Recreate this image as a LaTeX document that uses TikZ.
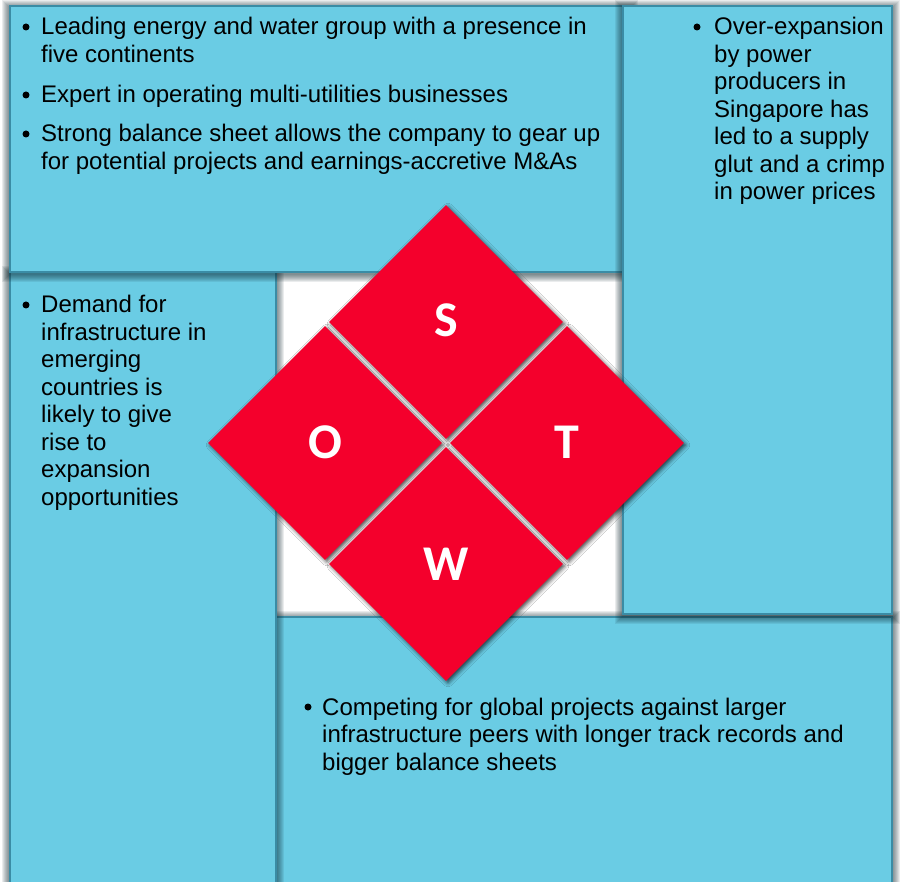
\documentclass[tikz,border=0pt]{standalone}
\usepackage{fontspec}
\setmainfont{Liberation Sans}
\newfontfamily\letterfont{Carlito}
\usetikzlibrary{shapes.geometric,shadows.blur,fit}

\definecolor{boxblue}{RGB}{106,204,228}
\definecolor{boxedge}{RGB}{58,140,165}
\definecolor{swotred}{RGB}{244,0,44}
\definecolor{shadowc}{RGB}{15,40,50}

% soft shadow around a rectangle given by two corner coordinates
\newcommand\softshade[2]{%
  \foreach \k in {1,...,8}{%
    \draw[shadowc, opacity=0.085, line width=\k*2pt]
      ([yshift=-2pt]#1) rectangle ([yshift=-2pt]#2);}}

\tikzset{
  panel/.style={draw=boxedge, line width=1.2pt, fill=boxblue, inner sep=0pt},
  cell/.style={diamond, fill=swotred, inner sep=0pt, aspect=1,
    minimum width=234pt, minimum height=234pt, text=white,
    font=\letterfont\bfseries\fontsize{50}{50}\selectfont,
    blur shadow={shadow xshift=2pt, shadow yshift=-2pt,
                 shadow blur radius=4pt, shadow opacity=70}},
  itemtext/.style={anchor=base west, inner sep=0pt,
    font=\fontsize{24}{27.5}\selectfont},
  bulletdot/.style={circle, fill=black, inner sep=0pt, minimum size=7pt},
}

\begin{document}
\begin{tikzpicture}[x=1pt, y=-1pt]
  % page
  \fill[white] (0,0) rectangle (902,882);
  \useasboundingbox (0,0) rectangle (902,882);

  % white core behind the SWOT diamond
  \node[fill=white, inner sep=0pt, anchor=north west,
        minimum width=346pt, minimum height=345pt] (core) at (277,272) {};

  % panel corners
  \coordinate (wNW) at (276,617);  \coordinate (wSE) at (892,895);
  \coordinate (oNW) at (10,272);   \coordinate (oSE) at (276,895);
  \coordinate (sNW) at (10,6);     \coordinate (sSE) at (630,272);
  \coordinate (tNW) at (623,6);    \coordinate (tSE) at (892,614);

  % four panels, laid out as a pinwheel, each casting a soft shadow
  \softshade{wNW}{wSE}
  \node[panel, fit=(wNW)(wSE)] (weakpanel) {};
  \softshade{oNW}{oSE}
  \node[panel, fit=(oNW)(oSE)] (opppanel) {};
  \softshade{sNW}{sSE}
  \node[panel, fit=(sNW)(sSE)] (strpanel) {};
  \softshade{tNW}{tSE}
  \node[panel, fit=(tNW)(tSE)] (thrpanel) {};

  % SWOT diamond
  \node[cell] (S) at (446,322) {\raisebox{3pt}{S}};
  \node[cell] (O) at (325,443) {\raisebox{2pt}{O}};
  \node[cell] (T) at (567,443) {\raisebox{2pt}{T}};
  \node[cell] (W) at (446,564) {W};

  % strengths
  \node[bulletdot] (sb1) at (26,27) {};
  \node[itemtext] (st1) at (41,35) {\begin{tabular}[t]{@{}l@{}}Leading energy and water group with a presence in\\five continents\end{tabular}};
  \node[bulletdot] (sb2) at (26,95) {};
  \node[itemtext] (st2) at (41,103) {Expert in operating multi-utilities businesses};
  \node[bulletdot] (sb3) at (26,134) {};
  \node[itemtext] (st3) at (41,142) {\begin{tabular}[t]{@{}l@{}}Strong balance sheet allows the company to gear up\\for potential projects and earnings-accretive M\&As\end{tabular}};

  % threats
  \node[bulletdot] (tb1) at (697,27) {};
  \node[itemtext] (tt1) at (714,35) {\begin{tabular}[t]{@{}l@{}}Over-expansion\\by power\\producers in\\Singapore has\\led to a supply\\glut and a crimp\\in power prices\end{tabular}};

  % opportunities
  \node[bulletdot] (ob1) at (26,305) {};
  \node[itemtext] (ot1) at (41,313) {\begin{tabular}[t]{@{}l@{}}Demand for\\infrastructure in\\emerging\\countries is\\likely to give\\rise to\\expansion\\opportunities\end{tabular}};

  % weaknesses
  \node[bulletdot] (wb1) at (308,707) {};
  \node[itemtext] (wt1) at (322,715) {\begin{tabular}[t]{@{}l@{}}Competing for global projects against larger\\infrastructure peers with longer track records and\\bigger balance sheets\end{tabular}};
\end{tikzpicture}
\end{document}
